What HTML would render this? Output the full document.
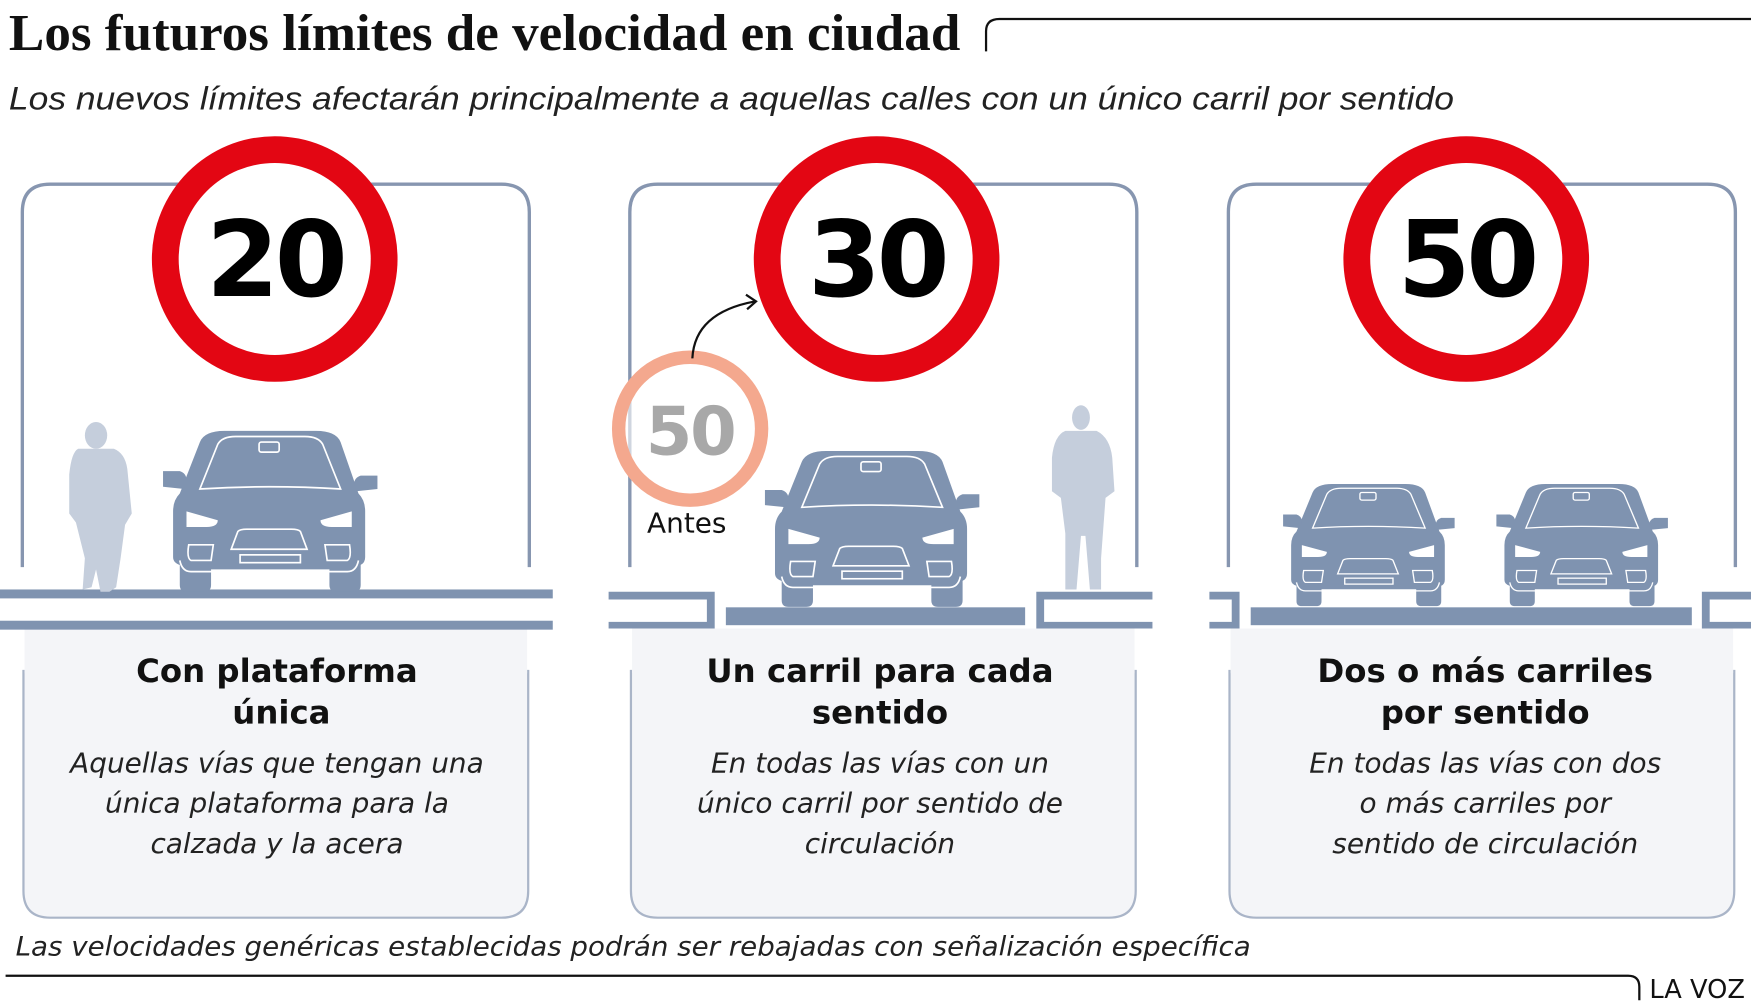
<!DOCTYPE html>
<html><head><meta charset="utf-8"><style>
html,body{margin:0;padding:0;background:#fff;}
svg{display:block}
</style></head><body>
<svg width="1751" height="1007" viewBox="0 0 1568 902" preserveAspectRatio="none" xmlns="http://www.w3.org/2000/svg">
<defs>
<g id="car">
 <path fill="#7f93b0" d="M28,12 Q32,2 50,2 L132,2 Q150,2 154,12 L170,58 Q176,64 176,74 L176,115 Q176,120 172,122 L172,140 Q172,146 166,146 L150,146 Q144,146 144,140 L144,126 L38,126 L38,140 Q38,146 32,146 L16,146 Q10,146 10,140 L10,122 Q4,120 4,115 L4,74 Q4,64 10,58 Z"/>
 <path fill="#7f93b0" d="M-5,38 L10,38 Q16,40 16,46 L14,54 L-5,52 Z M187,42 L172,42 Q166,44 166,50 L168,56 L187,54 Z"/>
 <path fill="none" stroke="#fff" stroke-width="1.5" d="M28,54 L44,14 Q48,7 60,7 L122,7 Q134,7 138,14 L154,54 Q90,50 28,54 Z"/>
 <rect x="81" y="12" width="18" height="9" rx="2" fill="none" stroke="#fff" stroke-width="1.5"/>
 <path fill="#fff" d="M16,74 L44,82 Q44,88 34,88 L16,88 Z M164,74 L136,82 Q136,88 146,88 L164,88 Z"/>
 <path fill="none" stroke="#fff" stroke-width="1.5" d="M56,108 L62,92 Q64,90 70,90 L110,90 Q116,90 118,92 L124,108 Z"/>
 <rect x="64" y="113" width="54" height="7" fill="none" stroke="#fff" stroke-width="1.5"/>
 <path fill="none" stroke="#fff" stroke-width="1.5" d="M18,104 L40,104 L38,118 L20,118 Q16,116 18,104 Z M162,104 L140,104 L142,118 L160,118 Q164,116 162,104 Z M10,118 Q12,128 20,128 L160,128 Q168,128 170,118"/>
</g>
</defs>

<text x="8" y="45" textLength="852" lengthAdjust="spacingAndGlyphs" font-family="Liberation Serif, serif" font-weight="bold" font-size="46" fill="#111">Los futuros límites de velocidad en ciudad</text>
<path d="M883,46 L883,28 Q883,17 895,17 L1568,17" fill="none" stroke="#111" stroke-width="2"/>
<text x="8" y="98" textLength="1294" lengthAdjust="spacingAndGlyphs" font-family="Liberation Sans, sans-serif" font-style="italic" font-size="29" fill="#222">Los nuevos límites afectarán principalmente a aquellas calles con un único carril por sentido</text>

<g fill="none" stroke="#8796b0" stroke-width="3">
 <path d="M20,508 L20,190 Q20,165 45,165 L449,165 Q474,165 474,190 L474,508"/>
 <path d="M564,508 L564,190 Q564,165 589,165 L993,165 Q1018,165 1018,190 L1018,508"/>
 <path d="M1100,508 L1100,190 Q1100,165 1125,165 L1529,165 Q1554,165 1554,190 L1554,508"/>
</g>
<g fill="#f4f5f8" stroke="#aab5c8" stroke-width="2">
 <path d="M21,600 L21,798 Q21,822 45,822 L449,822 Q473,822 473,798 L473,600"/>
 <path d="M565,600 L565,798 Q565,822 589,822 L993,822 Q1017,822 1017,798 L1017,600"/>
 <path d="M1101,600 L1101,798 Q1101,822 1125,822 L1529,822 Q1553,822 1553,798 L1553,600"/>
</g>
<g fill="#f4f5f8">
 <rect x="22" y="563" width="450" height="40"/>
 <rect x="566" y="563" width="450" height="40"/>
 <rect x="1102" y="563" width="450" height="40"/>
</g>

<g fill="#7f93b0">
 <rect x="0" y="528" width="495" height="8"/>
 <rect x="0" y="556" width="495" height="8"/>
 <path d="M545,530 L640,530 L640,563 L545,563 L545,557 L633,557 L633,537 L545,537 Z"/>
 <rect x="650" y="544" width="268" height="16"/>
 <path d="M1032,530 L928,530 L928,563 L1032,563 L1032,557 L935,557 L935,537 L1032,537 Z"/>
 <path d="M1083,530 L1110,530 L1110,563 L1083,563 L1083,557 L1103,557 L1103,537 L1083,537 Z"/>
 <rect x="1120" y="544" width="395" height="16"/>
 <path d="M1568,530 L1524,530 L1524,563 L1568,563 L1568,557 L1531,557 L1531,537 L1568,537 Z"/>
</g>

<g fill="#c5cedc">
 <ellipse cx="86" cy="390" rx="10" ry="12"/>
 <path d="M70,402 L102,402 Q112,406 114,420 L118,460 L112,470 L108,500 L104,526 L98,530 L90,530 L86,510 L82,526 L74,528 L76,500 L68,468 L62,460 L62,425 Q64,405 70,402 Z"/>
 <ellipse cx="968" cy="374" rx="8" ry="11"/>
 <path d="M954,386 L982,386 Q994,392 996,410 L998,440 L990,446 L986,500 L986,528 L976,528 L972,480 L968,480 L964,528 L954,528 L954,478 L950,446 L942,440 L942,410 Q944,390 954,386 Z"/>
</g>

<use href="#car" transform="translate(151,384) scale(1.0)"/>
<use href="#car" transform="translate(690,402) scale(1.0,0.97)"/>
<use href="#car" transform="translate(1153,432) scale(0.8,0.76)"/>
<use href="#car" transform="translate(1344,432) scale(0.8,0.76)"/>

<g>
 <circle cx="246" cy="232" r="110" fill="#e30613"/><circle cx="246" cy="232" r="86" fill="#fff"/>
 <text x="246" y="265" text-anchor="middle" font-family="DejaVu Sans, sans-serif" font-weight="bold" font-size="94" fill="#000" letter-spacing="-4">20</text>
 <circle cx="785" cy="232" r="110" fill="#e30613"/><circle cx="785" cy="232" r="86" fill="#fff"/>
 <text x="785" y="265" text-anchor="middle" font-family="DejaVu Sans, sans-serif" font-weight="bold" font-size="94" fill="#000" letter-spacing="-4">30</text>
 <circle cx="1313" cy="232" r="110" fill="#e30613"/><circle cx="1313" cy="232" r="86" fill="#fff"/>
 <text x="1313" y="265" text-anchor="middle" font-family="DejaVu Sans, sans-serif" font-weight="bold" font-size="94" fill="#000" letter-spacing="-4">50</text>
 <circle cx="618" cy="384" r="64" fill="#fff" fill-opacity="0.6" stroke="#f4a88e" stroke-width="12"/>
 <text x="618" y="407" text-anchor="middle" font-family="DejaVu Sans, sans-serif" font-weight="bold" font-size="60" fill="#a8a8a8" letter-spacing="-2">50</text>
 <text x="615" y="477" text-anchor="middle" font-family="DejaVu Sans, sans-serif" font-size="25" fill="#111">Antes</text>
 <path d="M620,321 Q622,280 676,270" fill="none" stroke="#111" stroke-width="2"/>
 <path d="M668,264 L677,270 L669,277" fill="none" stroke="#111" stroke-width="2"/>
</g>

<g font-family="DejaVu Sans, sans-serif" font-weight="bold" font-size="29" fill="#111" text-anchor="middle">
 <text x="248" y="611">Con plataforma</text><text x="252" y="648">única</text>
 <text x="788" y="611">Un carril para cada</text><text x="788" y="648">sentido</text>
 <text x="1330" y="611">Dos o más carriles</text><text x="1330" y="648">por sentido</text>
</g>
<g font-family="DejaVu Sans, sans-serif" font-style="italic" font-size="25" fill="#222" text-anchor="middle">
 <text x="248" y="692">Aquellas vías que tengan una</text>
 <text x="248" y="728">única plataforma para la</text>
 <text x="248" y="764">calzada y la acera</text>
 <text x="788" y="692">En todas las vías con un</text>
 <text x="788" y="728">único carril por sentido de</text>
 <text x="788" y="764">circulación</text>
 <text x="1330" y="692">En todas las vías con dos</text>
 <text x="1330" y="728">o más carriles por</text>
 <text x="1330" y="764">sentido de circulación</text>
</g>
<text x="14" y="856" textLength="1106" lengthAdjust="spacingAndGlyphs" font-family="DejaVu Sans, sans-serif" font-style="italic" font-size="24" fill="#222">Las velocidades genéricas establecidas podrán ser rebajadas con señalización específica</text>
<path d="M5,874 L1458,874 Q1468,874 1468,884 L1468,896" fill="none" stroke="#111" stroke-width="2"/>
<text x="1477" y="894" font-family="DejaVu Sans, sans-serif" font-size="23" fill="#111">LA VOZ</text>
</svg>
</body></html>
